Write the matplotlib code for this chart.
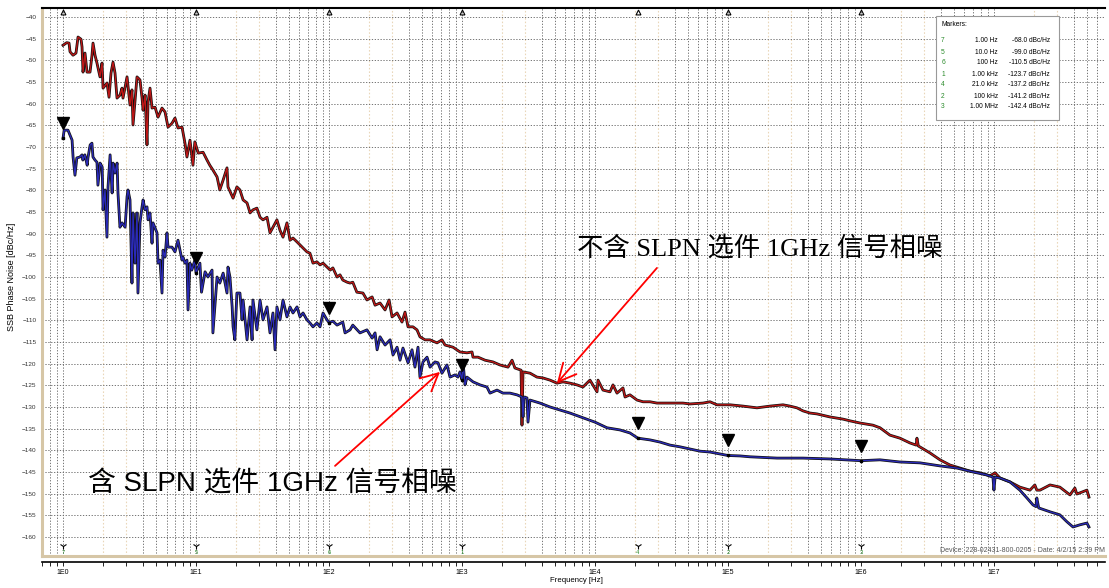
import matplotlib
matplotlib.use("Agg")
import matplotlib.pyplot as plt
import matplotlib.transforms as mtransforms
import matplotlib.patheffects as pe
from matplotlib.patches import Rectangle
from matplotlib.ticker import FixedLocator, NullFormatter

# ---- measured traces: (offset frequency in Hz, SSB phase noise in dBc/Hz) ----
# without the SLPN option
red_trace = [
    (1.00, -46.5), (1.066, -45.9), (1.11, -46.0), (1.129, -48.0), (1.189, -48.8), (1.252, -48.3),
    (1.297, -44.6), (1.366, -45.1), (1.39, -46.9), (1.414, -52.7), (1.463, -48.3), (1.515, -52.7),
    (1.596, -52.7), (1.652, -48.8), (1.681, -46.0), (1.74, -48.8), (1.80, -50.6), (1.897, -53.8),
    (1.965, -50.6), (2.0, -56.4), (2.142, -55.2), (2.218, -58.5), (2.296, -52.9), (2.377, -50.4),
    (2.46, -52.9), (2.547, -58.7), (2.683, -58.0), (2.777, -56.4), (2.825, -58.7), (3.03, -53.8),
    (3.19, -60.3), (3.30, -56.8), (3.36, -64.9), (3.48, -59.2), (3.60, -53.8), (3.79, -54.5),
    (3.93, -58.7), (4.00, -61.5), (4.14, -58.0), (4.28, -69.5), (4.36, -59.6), (4.51, -56.4),
    (4.67, -61.0), (4.92, -60.8), (5.18, -63.1), (5.55, -61.0), (5.85, -61.9), (6.16, -65.4),
    (6.60, -64.5), (6.95, -63.3), (7.32, -65.6), (7.85, -65.4), (8.26, -69.1), (8.55, -72.3),
    (9.01, -68.4), (9.49, -74.2), (9.8, -68.8), (10.4, -71.4), (11.3, -71.2), (12.1, -73.0),
    (12.7, -74.2), (13.4, -75.3), (14.4, -76.9), (15.1, -79.9), (16.0, -77.6), (17.1, -74.8),
    (17.4, -79.2), (19.0, -81.8), (20.3, -79.2), (21.4, -79.9), (22.6, -82.2), (24.2, -82.9),
    (25.5, -85.2), (26.8, -84.5), (28.7, -84.1), (30.3, -86.2), (31.9, -86.8), (34.2, -86.2),
    (36.0, -89.8), (37.9, -88.5), (40.6, -86.8), (42.8, -89.2), (45.1, -90.8), (48.3, -87.5),
    (50.9, -91.5), (53.6, -91.0), (57.5, -91.9), (60.5, -92.6), (63.8, -93.3), (68.3, -94.2),
    (71.9, -94.5), (75.8, -96.8), (81.2, -96.5), (85.6, -97.2), (90.2, -96.8), (96.6, -97.7),
    (102, -98.4), (107, -97.9), (115, -100.0), (121, -99.5), (127, -100.7), (137, -101.2),
    (144, -101.4), (151, -101.2), (162, -103.5), (180, -103.7), (193, -105.3), (211, -104.6),
    (222, -106.5), (242, -106.0), (264, -107.6), (283, -105.3), (298, -109.2), (325, -108.3),
    (354, -110.4), (373, -108.1), (393, -111.5), (428, -111.5), (459, -112.2), (483, -113.8),
    (527, -114.5), (575, -114.5), (649, -115.2), (707, -114.5), (745, -115.7), (856, -116.2),
    (966, -117.3), (1090, -117.5), (1190, -117.3), (1210, -118.5), (1320, -118.5), (1490, -119.2),
    (1710, -119.6), (1930, -120.3), (2220, -120.8), (2380, -119.2), (2500, -121.0), (2780, -121.5),
    (2826, -134.2), (2876, -121.9), (3250, -122.2), (3660, -123.1), (4060, -123.3), (4590, -123.8),
    (5180, -124.5), (5750, -124.2), (6490, -124.5), (7320, -124.9), (8120, -125.4), (9170, -123.8),
    (10360, -126.5), (10540, -123.8), (11490, -126.1), (12970, -126.5), (13660, -124.9),
    (14640, -126.8), (16240, -125.6), (16830, -127.7), (18330, -127.2), (20700, -128.4),
    (22960, -128.8), (25930, -128.8), (29250, -129.1), (36640, -129.1), (45900, -129.1),
    (51810, -129.3), (64870, -129.1), (73240, -128.8), (82670, -129.5), (1.035e5, -129.5),
    (1.297e5, -129.8), (1.463e5, -130.0), (1.652e5, -130.2), (2.07e5, -129.8), (2.593e5, -129.5),
    (2.925e5, -129.8), (3.302e5, -130.2), (3.664e5, -130.9), (4.137e5, -131.4), (4.67e5, -131.6),
    (5.85e5, -132.3), (7.32e5, -132.8), (8.27e5, -133.2), (9.83e5, -133.7), (1.231e6, -134.2),
    (1.39e6, -134.8), (1.652e6, -136.5), (1.963e6, -137.2), (2.335e6, -138.3), (2.6e6, -138.8),
    (2.636e6, -137.2), (2.7e6, -139.0), (3.30e6, -140.6), (3.93e6, -142.2), (4.67e6, -143.4),
    (5.55e6, -144.1), (6.6e6, -144.8), (7.85e6, -145.2), (9.33e6, -145.9), (1.02e7, -145.2),
    (1.11e7, -146.4), (1.32e7, -147.3), (1.567e7, -148.5), (1.865e7, -149.2), (2.03e7, -148.0),
    (2.10e7, -149.2), (2.22e7, -149.2), (2.64e7, -148.0), (3.13e7, -148.5), (3.73e7, -150.3),
    (4.06e7, -148.7), (4.2e7, -150.1), (5.0e7, -149.2), (5.18e7, -150.8),
]

# with the SLPN option
blue_trace = [
    (1.00, -68.0), (1.02, -66.1), (1.09, -66.1), (1.17, -68.4), (1.19, -72.3), (1.23, -76.5),
    (1.27, -72.5), (1.34, -72.3), (1.39, -71.8), (1.41, -73.0), (1.46, -71.8), (1.52, -74.2),
    (1.54, -72.5), (1.60, -69.5), (1.65, -69.1), (1.68, -72.3), (1.74, -73.0), (1.80, -73.5),
    (1.83, -78.8), (1.90, -73.7), (1.97, -74.6), (2.00, -84.5), (2.07, -79.9), (2.14, -90.8),
    (2.18, -79.2), (2.26, -71.8), (2.34, -80.6), (2.38, -73.7), (2.46, -76.0), (2.55, -73.7),
    (2.59, -80.6), (2.68, -88.5), (2.78, -87.5), (2.93, -88.5), (3.03, -81.5), (3.08, -79.9),
    (3.19, -82.2), (3.30, -101.4), (3.36, -85.2), (3.48, -96.8), (3.60, -85.2), (3.66, -103.7),
    (3.79, -87.5), (3.93, -83.8), (4.00, -82.2), (4.14, -84.5), (4.28, -83.8), (4.36, -86.8),
    (4.51, -85.2), (4.67, -92.2), (4.75, -87.5), (5.09, -89.8), (5.18, -96.8), (5.36, -96.1),
    (5.55, -103.7), (5.65, -93.8), (5.85, -95.4), (6.05, -89.8), (6.16, -93.1), (6.60, -93.1),
    (6.95, -94.2), (7.32, -91.5), (7.58, -93.8), (7.85, -96.1), (7.98, -95.4), (8.26, -96.8),
    (8.55, -96.1), (8.71, -107.6), (9.01, -96.8), (9.3, -98.4), (9.8, -96.1), (10.0, -99.0),
    (10.7, -96.8), (11.0, -103.5), (11.7, -98.8), (12.3, -100.0), (13.2, -98.4), (13.4, -112.9),
    (14.4, -100.0), (15.1, -101.4), (16.0, -99.1), (17.1, -103.7), (17.4, -97.7), (18.0, -100.0),
    (18.7, -106.9), (19.0, -111.5), (19.6, -114.5), (20.3, -103.7), (21.4, -103.7), (22.2, -109.9),
    (22.6, -105.3), (24.2, -114.5), (25.5, -106.9), (26.4, -114.5), (26.8, -105.3), (28.7, -112.2),
    (30.3, -105.3), (31.9, -109.9), (34.2, -106.9), (36.0, -112.9), (37.9, -108.3), (39.3, -116.8),
    (40.6, -106.9), (42.8, -109.9), (45.1, -105.3), (48.3, -109.2), (50.9, -106.9), (53.6, -108.3),
    (57.5, -106.9), (60.5, -109.2), (63.8, -108.3), (68.3, -109.9), (71.9, -110.6), (75.8, -111.5),
    (81.2, -110.6), (85.6, -111.5), (90.2, -108.3), (96.6, -109.9), (100, -110.5), (107, -110.2),
    (115, -111.1), (127, -110.4), (132, -112.9), (144, -112.2), (151, -111.1), (171, -112.9),
    (193, -112.2), (211, -114.1), (222, -112.9), (230, -116.8), (242, -113.8), (264, -115.7),
    (288, -114.5), (303, -118.0), (325, -116.2), (342, -119.2), (360, -116.4), (393, -119.8),
    (421, -116.8), (443, -120.8), (467, -116.2), (483, -123.1), (509, -119.6), (546, -118.5),
    (575, -120.8), (627, -119.6), (660, -119.8), (707, -122.2), (771, -120.3), (813, -123.1),
    (886, -122.6), (933, -123.1), (966, -121.9), (1000, -123.7), (1018, -119.6), (1054, -124.9),
    (1091, -123.1), (1211, -124.2), (1366, -124.9), (1541, -125.4), (1624, -126.8), (1834, -126.1),
    (2034, -126.8), (2296, -126.8), (2591, -127.2), (2826, -127.7), (2876, -132.3), (2930, -127.7),
    (3082, -127.9), (3136, -133.5), (3246, -128.4), (3858, -129.1), (4590, -130.0), (5458, -130.7),
    (6487, -131.4), (8121, -132.5), (10000, -133.5), (12310, -134.8), (15420, -135.3),
    (18330, -136.0), (21000, -137.2), (25930, -137.6), (30830, -138.1), (36640, -138.8),
    (43580, -139.2), (51810, -139.7), (61590, -140.2), (73240, -140.4), (1.0e5, -141.2),
    (1.231e5, -141.3), (1.463e5, -141.5), (2.335e5, -141.8), (3.664e5, -141.8), (5.85e5, -142.0),
    (1.0e6, -142.4), (1.39e6, -142.2), (1.963e6, -142.7), (2.78e6, -142.9), (3.93e6, -143.6),
    (5.27e6, -144.1), (6.95e6, -145.0), (8.86e6, -145.7), (9.83e6, -146.2), (1.0e7, -149.2),
    (1.02e7, -146.2), (1.11e7, -146.4), (1.32e7, -147.3), (1.567e7, -149.2), (1.77e7, -151.0),
    (1.965e7, -152.6), (2.07e7, -153.0), (2.10e7, -151.0), (2.17e7, -153.3), (2.64e7, -154.2),
    (3.13e7, -154.9), (3.54e7, -156.5), (3.93e7, -157.7), (4.43e7, -157.2), (5.0e7, -156.8),
    (5.18e7, -157.7),
]

# marker table
marker_ids = ["7", "5", "6", "1", "4", "2", "3"]
marker_freq = [1.0, 10.0, 100.0, 1e3, 21e3, 1e5, 1e6]
marker_freq_text = ["1.00 Hz", "10.0 Hz", "100 Hz", "1.00 kHz", "21.0 kHz", "100 kHz", "1.00 MHz"]
marker_db = [-68.0, -99.0, -110.5, -123.7, -137.2, -141.2, -142.4]

decade_ticks = [1e0, 1e1, 1e2, 1e3, 1e4, 1e5, 1e6, 1e7]
decade_labels = ["1E0", "1E1", "1E2", "1E3", "1E4", "1E5", "1E6", "1E7"]
db_ticks = list(range(-160, -39, 5))

label_top = "不含 SLPN 选件 1GHz 信号相噪"
label_bottom = "含 SLPN 选件 1GHz 信号相噪"

# ---- figure ----
W, H = 1109, 588
plt.rcParams["font.family"] = ["Liberation Sans", "DejaVu Sans"]
fig = plt.figure(figsize=(W / 100, H / 100), dpi=100)
ax = fig.add_axes([42 / W, 32 / H, (1105 - 42) / W, (556 - 8) / H])
ax.set_xscale("log")
ax.set_xlim(0.695, 6.84e7)
ax.set_ylim(-164.4, -37.9)

# grid: grey dotted at decades and 4..9, pale tan at 2 and 3
dark = "#6a6a6a"
tan = "#e9d6b8"
dots = (0, (1.4, 1.8))
xmin, xmax = ax.get_xlim()
for d in range(-1, 8):
    for m in (1, 4, 5, 6, 7, 8, 9):
        xv = m * 10.0 ** d
        if xmin < xv < xmax:
            ax.axvline(xv, color=dark, lw=0.65, ls=dots, zorder=0.5)
    for m in (2, 3):
        xv = m * 10.0 ** d
        if xmin < xv < xmax:
            ax.axvline(xv, color=tan, lw=0.8, ls=dots, zorder=0.4)
for yv in db_ticks:
    ax.axhline(yv, color=dark, lw=0.65, ls=dots, zorder=0.5)

# traces: coloured line with a thin black outline
rf, rd = zip(*red_trace)
bf, bd = zip(*blue_trace)
outline = [pe.Stroke(linewidth=2.0, foreground="#111111"), pe.Normal()]
ax.plot(rf, rd, color="#bf1616", lw=0.95, zorder=3, path_effects=outline)
ax.plot(bf, bd, color="#2a2ab8", lw=0.95, zorder=3, path_effects=outline)

# marker points and triangles above them
ax.plot(marker_freq, marker_db, "s", color="black", ms=2.0, zorder=5)
tri = mtransforms.offset_copy(ax.transData, fig=fig, x=0, y=15, units="dots")
ax.plot(marker_freq, marker_db, "v", color="black", ms=9, transform=tri, zorder=6)

# marker indicators at top and bottom edges
xa = ax.get_xaxis_transform()
ax.plot(marker_freq, [0.9925] * len(marker_freq), "^", transform=xa, ms=3.5,
        mfc="none", mec="black", mew=0.8, clip_on=False, zorder=6)
ax.plot(marker_freq, [0.018] * len(marker_freq), "1", transform=xa, ms=5,
        color="black", mew=0.8, clip_on=False, zorder=6)
for mid, mf in zip(marker_ids, marker_freq):
    ax.text(mf, 0.006, mid, transform=xa, fontsize=4.2, color="#2a8a2a",
            ha="center", va="center", zorder=6)

# axes frame
ax.spines["right"].set_visible(False)
ax.spines["top"].set_color("black")
ax.spines["top"].set_linewidth(1.5)
ax.spines["left"].set_color("#d6c6a6")
ax.spines["left"].set_linewidth(2.2)
ax.spines["bottom"].set_position(("outward", 4))
ax.spines["bottom"].set_color("black")
ax.spines["bottom"].set_linewidth(1.2)
ax.plot([0, 1], [0, 0], transform=ax.transAxes, color="#d6c6a6", lw=2.2,
        clip_on=False, zorder=5)

# ticks
ax.xaxis.set_major_locator(FixedLocator(decade_ticks))
ax.set_xticklabels(decade_labels)
minor = [m * 10.0 ** d for d in range(-1, 8) for m in range(2, 10) if xmin < m * 10.0 ** d < xmax]
ax.xaxis.set_minor_locator(FixedLocator(minor))
ax.xaxis.set_minor_formatter(NullFormatter())
ax.tick_params(axis="x", which="both", direction="out", length=3, width=0.6,
               labelsize=5, pad=2, colors="black")
ax.set_yticks(db_ticks)
ax.tick_params(axis="y", length=0, labelsize=4.6, pad=4, labelcolor="#333333")

fig.text(12 / W, 1 - 277 / H, "SSB Phase Noise [dBc/Hz]", rotation=90,
         ha="center", va="center", fontsize=6.5)
fig.text(576 / W, 1 - 581 / H, "Frequency [Hz]", ha="center", va="center", fontsize=5.6)
fig.text(1105 / W, 1 - 551 / H, "Device: 228-02431-800-0205 - Date: 4/2/15 2:39 PM",
         ha="right", va="center", fontsize=5, color="#555555")

# marker summary box
box = Rectangle((936 / W, 1 - 120 / H), 123 / W, 104 / H, transform=fig.transFigure,
                facecolor="white", edgecolor="#999999", lw=0.8, zorder=10)
fig.add_artist(box)
fig.text(941 / W, 1 - 25 / H, "Markers:", ha="left", va="center", fontsize=4.8, zorder=11)
for i, (mid, ft, dbv) in enumerate(zip(marker_ids, marker_freq_text, marker_db)):
    yy = 1 - (41 + 11 * i) / H
    fig.text(943 / W, yy, mid, ha="center", va="center", fontsize=4.8,
             color="#2a8a2a", zorder=11)
    fig.text(998 / W, yy, ft, ha="right", va="center", fontsize=4.8, zorder=11)
    fig.text(1050 / W, yy, f"{dbv:.1f} dBc/Hz", ha="right", va="center",
             fontsize=4.8, zorder=11)

# annotations
arrow = dict(arrowstyle="->,head_length=0.9,head_width=0.45", color="red", lw=1.3,
             mutation_scale=14, shrinkA=0, shrinkB=0)
ax.annotate("", xy=(5181, -124.5), xytext=(29250, -97.9), arrowprops=arrow, zorder=8)
ax.annotate("", xy=(684, -121.9), xytext=(111, -143.6), arrowprops=arrow, zorder=8)
ax.text(7322, -93.3, label_top, fontsize=19, ha="left", va="center",
        family=["Liberation Serif", "Noto Sans CJK SC"], zorder=8)
ax.text(1.54, -148.0, label_bottom, fontsize=20, ha="left", va="center",
        family=["Liberation Sans", "Noto Sans CJK SC"], zorder=8)

fig.savefig("out.png", dpi=100)
